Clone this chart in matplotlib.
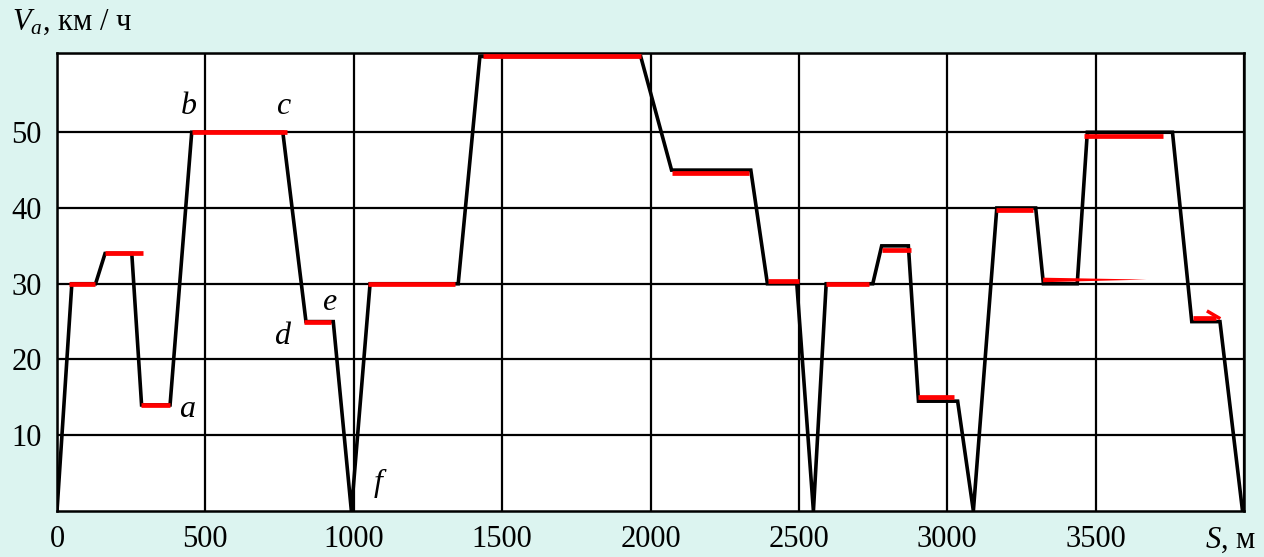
import numpy as np
import matplotlib.pyplot as plt

plt.rcParams['font.family'] = ['Liberation Serif', 'DejaVu Serif']
plt.rcParams['mathtext.fontset'] = 'custom'
plt.rcParams['mathtext.rm'] = 'Liberation Serif'
plt.rcParams['mathtext.it'] = 'Liberation Serif:italic'

# Профиль скорости (черная линия)
s_profile = [0, 50, 130, 162, 252, 285, 381, 454, 761, 839, 931, 992, 1055,
             1352, 1425, 1967, 2071, 2338, 2394, 2493, 2549, 2592, 2749, 2779,
             2869, 2903, 3035, 3088, 3167, 3298, 3324, 3438, 3472, 3759, 3824,
             3919, 3995]
v_profile = [0, 30, 30, 34, 34, 14, 14, 50, 50, 25, 25, 0, 30,
             30, 60, 60, 45, 45, 30, 30, 0, 30, 30, 35,
             35, 14.5, 14.5, 0, 40, 40, 30, 30, 50, 50, 25,
             25, 0]

# Участки постоянной скорости (красные)
red_v = [30, 34, 14, 50, 25, 30, 60, 44.6, 30.4, 30, 34.5, 15, 39.7, 49.5, 25.5]
red_s0 = [42, 162, 283, 454, 832, 1049, 1437, 2071, 2396, 2592, 2780, 2902, 3163, 3461, 3828]
red_s1 = [128, 291, 381, 774, 923, 1341, 1967, 2333, 2500, 2737, 2878, 3024, 3290, 3728, 3905]

# клин на 30 км/ч
wedge_s = [3323, 3672]
wedge_v = 30.5

# подписи точек
point_names = ['a', 'b', 'c', 'd', 'e', 'f']
point_s = [437, 443, 761, 757, 918, 1083]
point_v = [13.4, 53.4, 53.4, 23.0, 27.5, 3.6]

x_ticks = [0, 500, 1000, 1500, 2000, 2500, 3000, 3500]
y_ticks = [10, 20, 30, 40, 50]

fig = plt.figure(figsize=(12.64, 5.57), dpi=100, facecolor='#dcf4f0')
ax = fig.add_axes([57/1264, 1-511/557, (1244-57)/1264, (511-52.7)/557])
ax.set_facecolor('white')

ax.set_xlim(0, 4000)
ax.set_ylim(0, 60.5)
ax.set_xticks(x_ticks + [4000])
ax.set_xticklabels([str(t) for t in x_ticks] + [''])
ax.set_yticks(y_ticks + [60.5])
ax.set_yticklabels([str(t) for t in y_ticks] + [''])
ax.tick_params(length=0, labelsize=22)
ax.tick_params(axis='x', pad=10)
ax.tick_params(axis='y', pad=11)
ax.grid(True, color='black', linewidth=1.6)
for sp in ax.spines.values():
    sp.set_linewidth(1.8)

ax.plot(s_profile, v_profile, color='black', linewidth=2.6, solid_joinstyle='miter', zorder=3)
ax.hlines(red_v, red_s0, red_s1, color='#ff0000', linewidth=3.4, zorder=4)

# клин
ax.fill([wedge_s[0], wedge_s[1], wedge_s[0]],
        [wedge_v - 0.3, wedge_v + 0.05, wedge_v + 0.3], color='#ff0000', lw=0, zorder=4)
# стрелка в конце
ax.plot([3880, 3915], [26.3, 25.5], color='#ff0000', linewidth=2.5, zorder=4)

for name, s, v in zip(point_names, point_s, point_v):
    ax.text(s, v, name, fontsize=23, style='italic', ha='center', va='center', zorder=5)

fig.text(12/1264, 1-22/557, r'$V_a$, км / ч', fontsize=22, ha='left', va='center')
fig.text(1205/1264, 1-540/557, r'$S$, м', fontsize=22, ha='left', va='center')

fig.savefig('out.png', dpi=100, facecolor=fig.get_facecolor())
